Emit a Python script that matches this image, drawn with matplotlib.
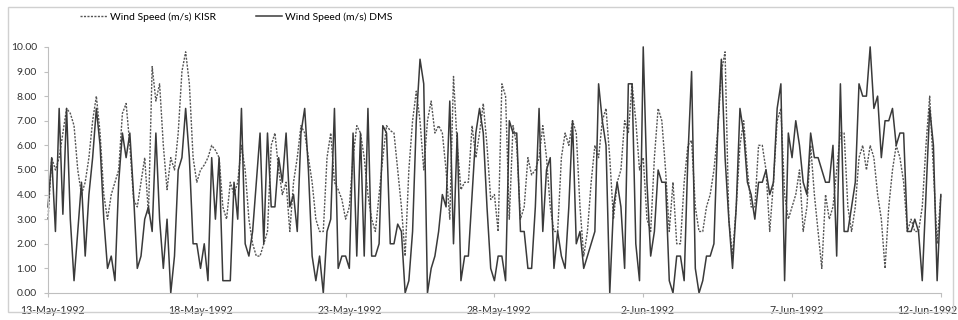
import numpy as np
import pandas as pd
import matplotlib
matplotlib.use("Agg")
import matplotlib.pyplot as plt
from matplotlib.ticker import FormatStrFormatter
from matplotlib.patches import Rectangle
from matplotlib.transforms import ScaledTranslation

plt.rcParams["font.family"] = ["Lato", "DejaVu Sans"]

START = "1992-05-13"

# 3-hourly readings, one row per day (13-May .. 11-Jun) + final point on 12-Jun
kisr = [
    3.0, 5.5, 5.0, 5.5, 6.5, 7.5, 7.3, 6.8,
    5.0, 4.0, 4.5, 5.5, 7.0, 8.0, 6.5, 4.0,
    3.0, 4.0, 4.5, 5.0, 7.3, 7.7, 6.0, 3.8,
    3.5, 4.5, 5.5, 3.2, 9.2, 7.8, 8.5, 6.0,
    4.2, 5.5, 5.0, 6.5, 9.0, 9.8, 8.5, 5.5,
    4.5, 5.0, 5.2, 5.5, 6.0, 5.8, 5.5, 3.5,
    3.0, 4.5, 4.0, 4.5, 6.0, 5.0, 3.0, 2.0,
    1.5, 1.5, 2.0, 2.5, 6.0, 6.5, 5.0, 4.0,
    4.5, 2.5, 4.5, 5.5, 6.8, 6.5, 5.5, 4.5,
    3.0, 2.5, 2.5, 5.5, 6.5, 4.5, 4.2, 3.8,
    3.0, 3.5, 5.5, 6.8, 6.5, 5.5, 4.0, 3.0,
    2.5, 4.0, 5.5, 6.8, 6.6, 6.5, 5.0, 3.5,
    1.5, 5.0, 7.0, 8.2, 7.0, 5.0, 7.0, 7.8,
    6.5, 6.8, 6.5, 5.0, 3.0, 8.8, 6.0, 4.2,
    4.5, 4.5, 6.8, 5.5, 6.5, 7.7, 6.0, 3.8,
    4.0, 2.5, 8.5, 8.0, 3.0, 6.8, 6.0, 3.0,
    3.5, 5.5, 4.8, 5.0, 5.5, 6.8, 5.5, 3.5,
    2.5, 2.5, 5.5, 6.5, 6.0, 7.0, 6.5, 3.5,
    1.5, 2.5, 4.5, 6.0, 5.5, 7.0, 7.5, 5.5,
    3.0, 4.5, 5.0, 7.0, 6.5, 8.5, 7.0, 5.0,
    5.5, 3.0, 2.5, 5.5, 7.5, 7.0, 5.0, 2.5,
    4.5, 2.0, 2.0, 4.5, 6.0, 6.2, 3.5, 2.5,
    2.5, 3.5, 4.0, 5.0, 6.5, 9.0, 9.8, 3.0,
    1.5, 3.5, 6.0, 7.0, 5.0, 3.5, 3.5, 6.0,
    6.0, 5.0, 2.5, 4.5, 7.0, 7.5, 4.0, 3.0,
    3.5, 4.0, 5.0, 2.5, 3.5, 6.0, 4.0, 2.5,
    1.0, 4.0, 3.0, 3.5, 5.0, 6.5, 6.5, 3.5,
    2.5, 3.5, 5.5, 6.0, 5.0, 6.0, 5.5, 4.0,
    3.0, 1.0, 3.5, 5.0, 6.0, 5.5, 4.5, 2.5,
    3.0, 2.5, 2.5, 3.5, 6.0, 8.0, 5.0, 2.0,
    4.0,
]

dms = [
    3.5, 5.5, 2.5, 7.5, 3.2, 7.5, 3.0, 0.5,
    2.5, 4.5, 1.5, 4.0, 5.5, 7.5, 6.0, 3.0,
    1.0, 1.5, 0.5, 4.5, 6.5, 5.5, 6.5, 4.0,
    1.0, 1.5, 3.0, 3.5, 2.5, 6.5, 3.0, 1.0,
    3.0, 0.0, 1.5, 5.0, 5.5, 7.5, 5.5, 2.0,
    2.0, 1.0, 2.0, 0.5, 5.5, 3.0, 5.5, 0.5,
    0.5, 0.5, 4.5, 3.0, 7.5, 2.0, 1.5, 2.5,
    4.5, 6.5, 2.0, 6.5, 3.5, 3.5, 5.5, 4.5,
    6.5, 3.5, 4.0, 2.5, 6.5, 7.5, 5.0, 1.5,
    0.5, 1.5, 0.0, 2.5, 3.0, 7.5, 1.0, 1.5,
    1.5, 1.0, 6.5, 1.5, 6.5, 1.5, 7.5, 1.5,
    1.5, 2.0, 6.8, 6.5, 2.0, 2.0, 2.8, 2.5,
    0.0, 0.5, 2.5, 7.0, 9.5, 8.5, 0.0, 1.0,
    1.5, 2.5, 4.0, 3.5, 7.8, 2.0, 6.5, 0.5,
    1.5, 1.5, 4.0, 6.5, 7.5, 6.5, 3.5, 1.0,
    0.5, 1.5, 1.5, 0.5, 7.0, 6.5, 6.5, 2.5,
    2.5, 1.0, 1.0, 3.5, 7.5, 2.5, 5.0, 5.5,
    1.0, 2.5, 1.5, 1.0, 3.5, 7.0, 2.0, 2.5,
    1.0, 1.5, 2.0, 2.5, 8.5, 7.0, 6.0, 0.0,
    3.5, 4.5, 3.5, 1.0, 8.5, 8.5, 2.0, 0.5,
    10.0, 4.5, 1.5, 2.5, 5.0, 4.5, 4.5, 0.5,
    0.0, 1.5, 1.5, 0.5, 5.5, 9.0, 1.0, 0.0,
    0.5, 1.5, 1.5, 2.0, 6.5, 9.5, 5.5, 3.0,
    1.0, 3.5, 7.5, 6.5, 4.5, 4.0, 3.0, 4.5,
    4.5, 5.0, 4.0, 4.5, 7.5, 8.5, 0.5, 6.5,
    5.5, 7.0, 6.0, 4.5, 4.0, 6.5, 5.5, 5.5,
    5.0, 4.5, 4.5, 6.0, 1.5, 8.5, 2.5, 2.5,
    3.5, 4.5, 8.5, 8.0, 8.0, 10.0, 7.5, 8.0,
    5.5, 7.0, 7.0, 7.5, 6.0, 6.5, 6.5, 2.5,
    2.5, 3.0, 2.5, 0.5, 4.0, 7.5, 6.0, 0.5,
    4.0,
]

times = pd.date_range(START, periods=len(kisr), freq="3h")
tick_dates = pd.date_range(START, periods=7, freq="5D")
tick_labels = [f"{d.day}-{d.strftime('%b-%Y')}" for d in tick_dates]

fig = plt.figure(figsize=(9.58, 3.2), dpi=100)
fig.patch.set_facecolor("white")
ax = fig.add_axes([0.0501, 0.0844, 0.932, 0.769])

ax.plot(times, kisr, color="#555555", linewidth=1.0, linestyle=(0, (1.5, 1.0)),
        label="Wind Speed (m/s) KISR", clip_on=False)
ax.plot(times, dms, color="#3a3a3a", linewidth=1.1,
        label="Wind Speed (m/s) DMS", clip_on=False)

ax.set_ylim(0, 10)
ax.set_xlim(times[0], times[-1])
ax.set_yticks(np.arange(0, 11, 1))
ax.yaxis.set_major_formatter(FormatStrFormatter("%.2f"))
ax.set_xticks(tick_dates)
ax.set_xticklabels(tick_labels)

for side in ["top", "right"]:
    ax.spines[side].set_visible(False)
for side in ["left", "bottom"]:
    ax.spines[side].set_color("#bfbfbf")
ax.tick_params(axis="y", length=3, color="#bfbfbf", labelsize=7.5, labelcolor="#333333", pad=5)
ax.tick_params(axis="x", length=3, color="#bfbfbf", labelsize=7.6, labelcolor="#333333", pad=6)

# spreadsheet-style label placement: nudged right, last one kept inside the chart
xlabels = ax.get_xticklabels()
for lab in xlabels[:-1]:
    lab.set_transform(lab.get_transform() + ScaledTranslation(4 / 100, 0, fig.dpi_scale_trans))
xlabels[-1].set_horizontalalignment("right")
xlabels[-1].set_transform(xlabels[-1].get_transform() + ScaledTranslation(16 / 100, 0, fig.dpi_scale_trans))

fig.legend(loc="center", bbox_to_anchor=(0.247, 0.947), ncol=2, frameon=False,
           fontsize=7.5, handlelength=2.5, handletextpad=0.3, columnspacing=3.9)

# light chart border, as in the spreadsheet export
fig.add_artist(Rectangle((8 / 958, 8 / 320), 945 / 958, 305 / 320, transform=fig.transFigure,
                         fill=False, edgecolor="#d0d0d0", linewidth=1.0))

fig.savefig("out.png", dpi=100, facecolor="white")
